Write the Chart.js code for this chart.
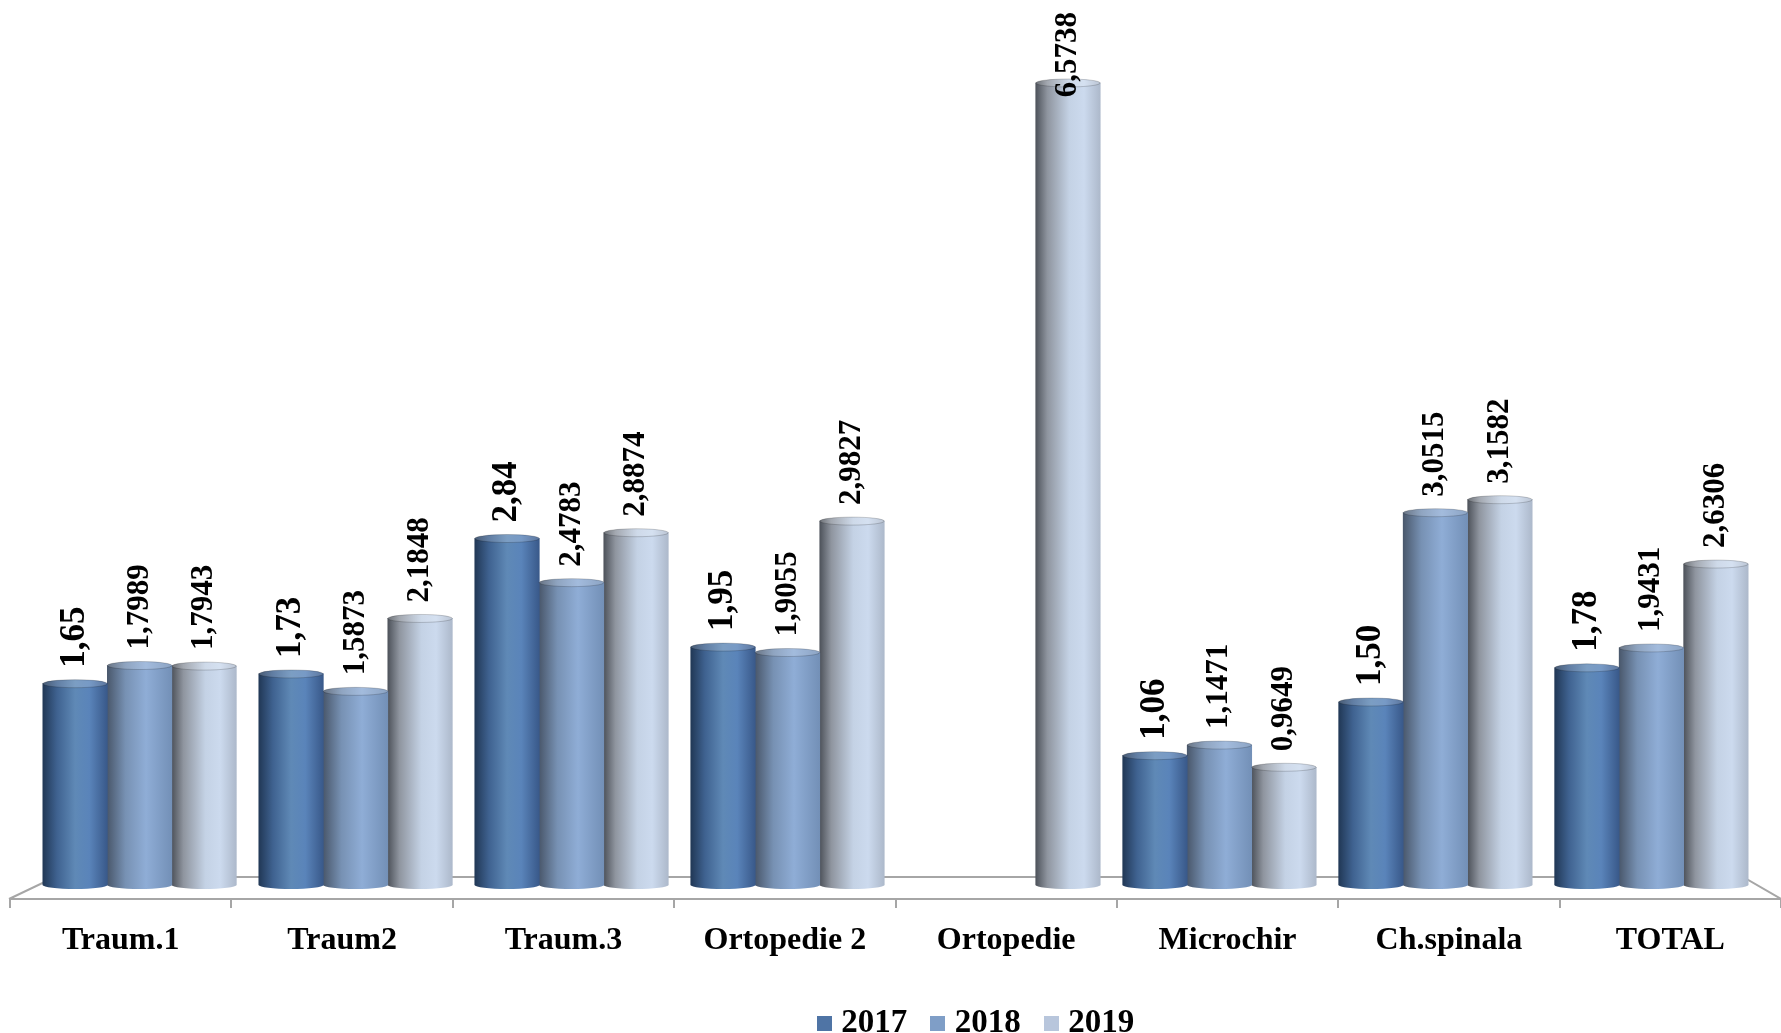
<!DOCTYPE html>
<html lang="ro">
<head>
<meta charset="UTF-8">
<title>Indicator pe sectii 2017-2019</title>
<script src="https://cdn.jsdelivr.net/npm/chart.js"></script>
<style>
  html, body { margin: 0; padding: 0; background: #fff; }
</style>
</head>
<body>
<canvas id="myChart" width="1781" height="1033"></canvas>
<script>
// data
const categories = ['Traum.1', 'Traum2', 'Traum.3', 'Ortopedie 2', 'Ortopedie', 'Microchir', 'Ch.spinala', 'TOTAL'];
const years = ['2017', '2018', '2019'];
const values2017 = [1.65, 1.73, 2.84, 1.95, null, 1.06, 1.50, 1.78];
const values2018 = [1.7989, 1.5873, 2.4783, 1.9055, null, 1.1471, 3.0515, 1.9431];
const values2019 = [1.7943, 2.1848, 2.8874, 2.9827, 6.5738, 0.9649, 3.1582, 2.6306];
const labelDecimals = [2, 4, 4];

// styles
const legendColors = ['#4f74a5', '#7f9ec7', '#b8c6dc'];
const cylinderStops = [
  [[0, '#213856'], [0.22, '#3f6290'], [0.5, '#5f89b6'], [0.72, '#5a84ba'], [1, '#39598a']],
  [[0, '#4a586c'], [0.28, '#7791b3'], [0.6, '#8fadd6'], [1, '#7390b7']],
  [[0, '#4e535b'], [0.18, '#8f959f'], [0.52, '#c4d2e5'], [0.75, '#ccdaee'], [1, '#adb9cb']]
];
const labelSizes = [35, 31, 31];
const BAR_W = 64.5;
const FONT = 'Liberation Serif';

const allValues = [values2017, values2018, values2019];

// horizontal gradient = cylinder look
function barFill(context) {
  const chart = context.chart;
  const xb = chart.scales.xb;
  const ds = context.datasetIndex;
  if (!xb || context.type !== 'data') return legendColors[ds];
  const cx = xb.getPixelForValue(context.dataIndex) + (ds - 1) * BAR_W;
  const g = chart.ctx.createLinearGradient(cx - BAR_W / 2, 0, cx + BAR_W / 2, 0);
  cylinderStops[ds].forEach(s => g.addColorStop(s[0], s[1]));
  return g;
}

// small square used as legend marker
function swatch(color) {
  const c = document.createElement('canvas');
  c.width = 15; c.height = 15;
  const g = c.getContext('2d');
  g.fillStyle = color;
  g.fillRect(0, 0, 15, 15);
  return c;
}

// floor of the 3D plot
const floorPlugin = {
  id: 'floor',
  beforeDatasetsDraw(chart) {
    const ctx = chart.ctx, a = chart.chartArea;
    const yFront = a.bottom, yBack = a.bottom - 22;
    ctx.save();
    ctx.strokeStyle = '#a6a6a6';
    ctx.lineWidth = 2;
    ctx.beginPath();
    ctx.moveTo(a.left - 1, yFront);
    ctx.lineTo(a.left + 45, yBack);
    ctx.lineTo(chart.width - 38, yBack);
    ctx.lineTo(chart.width, yFront);
    ctx.stroke();
    ctx.restore();
  }
};

// legend sits a bit right of centre in the original
const legendShift = {
  id: 'legendShift',
  afterLayout(chart) {
    if (chart.legend) {
      chart.legend.left += 81;
      chart.legend.right += 81;
    }
  }
};

// elliptic caps + rotated value labels
const capsPlugin = {
  id: 'caps',
  afterDatasetsDraw(chart) {
    const ctx = chart.ctx;
    chart.data.datasets.forEach((dataset, di) => {
      const meta = chart.getDatasetMeta(di);
      meta.data.forEach((el, i) => {
        if (allValues[di][i] == null) return;
        const p = el.getProps(['x', 'y', 'base', 'width'], true);
        const fill = el.options.backgroundColor;
        ctx.save();
        ctx.fillStyle = fill;
        ctx.beginPath();
        ctx.ellipse(p.x, p.base, p.width / 2, 4, 0, 0, Math.PI);
        ctx.fill();
        ctx.beginPath();
        ctx.ellipse(p.x, p.y, p.width / 2, 4, 0, 0, Math.PI * 2);
        ctx.fill();
        ctx.fillStyle = 'rgba(255,255,255,0.18)';
        ctx.fill();
        ctx.strokeStyle = 'rgba(0,0,0,0.18)';
        ctx.lineWidth = 1;
        ctx.stroke();
        ctx.restore();
      });
    });
    chart.data.datasets.forEach((dataset, di) => {
      const meta = chart.getDatasetMeta(di);
      meta.data.forEach((el, i) => {
        const v = allValues[di][i];
        if (v == null) return;
        const p = el.getProps(['x', 'y'], true);
        const txt = v.toFixed(labelDecimals[di]).replace('.', ',');
        ctx.save();
        ctx.font = 'bold ' + labelSizes[di] + 'px "' + FONT + '"';
        const tw = ctx.measureText(txt).width;
        let yy = p.y - 16;
        if (yy - tw < 12) yy = 12 + tw;
        ctx.translate(p.x, yy);
        ctx.rotate(-Math.PI / 2);
        ctx.fillStyle = '#000';
        ctx.textAlign = 'left';
        ctx.textBaseline = 'middle';
        ctx.fillText(txt, 0, 0);
        ctx.restore();
      });
    });
  }
};

const datasets = years.map((y, di) => ({
  label: y,
  data: allValues[di].map((v, i) => ({ x: i, y: v })),
  xAxisID: 'xb',
  yAxisID: 'y',
  backgroundColor: barFill,
  borderWidth: 0,
  barThickness: BAR_W
}));

const myChart = new Chart(document.getElementById('myChart'), {
  type: 'bar',
  data: { labels: categories, datasets: datasets },
  options: {
    responsive: false,
    animation: false,
    layout: { padding: { top: 10, left: 10, right: -5, bottom: -17 } },
    scales: {
      x: {
        type: 'category',
        position: 'bottom',
        offset: true,
        grid: { display: true, drawOnChartArea: false, drawTicks: true, tickLength: 9, color: '#a6a6a6', lineWidth: 2, offset: true },
        border: { display: true, color: '#a6a6a6', width: 2 },
        ticks: { color: '#000', padding: 14, maxRotation: 0, autoSkip: false,
          font: { family: FONT, size: 32, weight: 'bold' } },
        afterFit: s => { s.height = 78; }
      },
      xb: { type: 'linear', display: false, offset: false, grid: { offset: false }, min: -0.6, max: 7.6 },
      y: { display: false, min: -0.1148, max: 7.172 }
    },
    plugins: {
      tooltip: { enabled: false },
      legend: {
        position: 'bottom',
        labels: {
          usePointStyle: true, boxWidth: 1, boxHeight: 15, padding: 30, color: '#000',
          font: { family: FONT, size: 33, weight: 'bold', lineHeight: 1 },
          generateLabels: () => years.map((y, i) => ({
            text: y, fillStyle: legendColors[i], strokeStyle: legendColors[i],
            lineWidth: 0, pointStyle: swatch(legendColors[i]), datasetIndex: i, hidden: false
          }))
        }
      }
    }
  },
  plugins: [floorPlugin, legendShift, capsPlugin]
});
</script>
</body>
</html>
